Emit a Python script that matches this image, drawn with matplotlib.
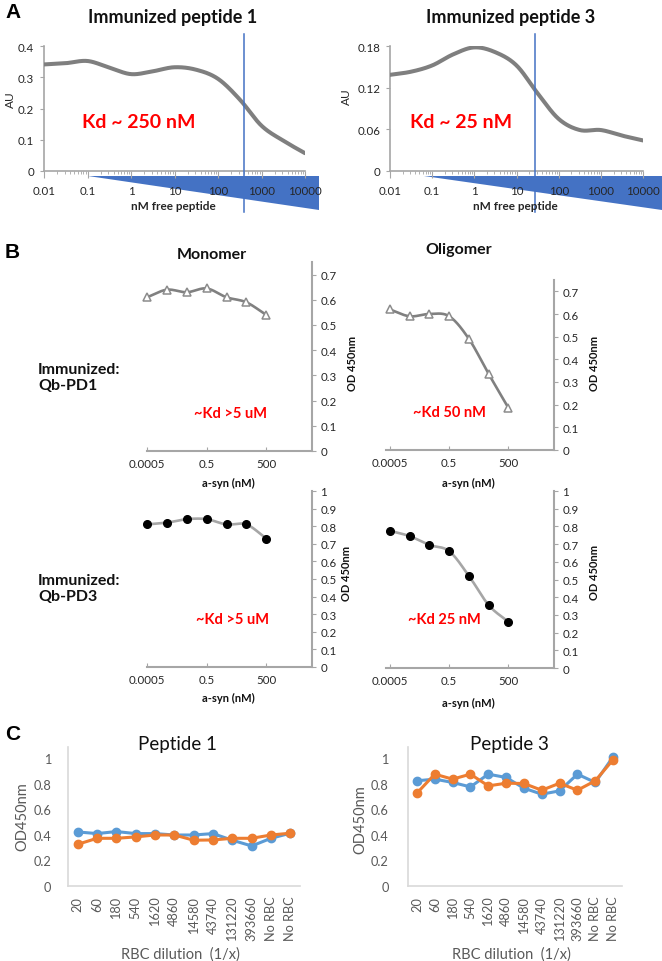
import numpy as np
import matplotlib
matplotlib.use("Agg")
import matplotlib.pyplot as plt
from matplotlib.patches import Polygon
from matplotlib.ticker import LogLocator, NullFormatter, FixedLocator, FixedFormatter

# ---------------- data ----------------
# Panel A
a_conc = [0.01, 0.0316, 0.1, 0.316, 1, 3.16, 10, 31.6, 100, 316, 1000, 3162, 10000]
a_pep1 = [0.341, 0.345, 0.352, 0.331, 0.310, 0.319, 0.332, 0.324, 0.295, 0.229, 0.145, 0.097, 0.057]
a_pep3 = [0.1385, 0.143, 0.152, 0.168, 0.178, 0.171, 0.152, 0.112, 0.075, 0.059, 0.059, 0.051, 0.044]
a_kd_line = [400, 28]
a_titles = ["Immunized peptide 1", "Immunized peptide 3"]
a_kd_text = ["Kd ~ 250 nM", "Kd ~ 25 nM"]
a_xticks = [0.01, 0.1, 1, 10, 100, 1000, 10000]
a_xticklabels = ["0.01", "0.1", "1", "10", "100", "1000", "10000"]

# Panel B
b_conc = [0.0005, 0.005, 0.05, 0.5, 5, 50, 500]
b_pd1_mono = [0.61, 0.64, 0.63, 0.645, 0.61, 0.59, 0.54]
b_pd1_olig = [0.62, 0.59, 0.60, 0.59, 0.49, 0.335, 0.185]
b_pd3_mono = [0.81, 0.82, 0.84, 0.84, 0.81, 0.81, 0.73]
b_pd3_olig = [0.775, 0.745, 0.695, 0.66, 0.52, 0.355, 0.26]
b_xticks = [0.0005, 0.5, 500]
b_xticklabels = ["0.0005", "0.5", "500"]

# Panel C
c_cats = ['20', '60', '180', '540', '1620', '4860', '14580', '43740', '131220', '393660', 'No RBC', 'No RBC']
c_p1_blue = [0.424, 0.411, 0.427, 0.411, 0.411, 0.40, 0.40, 0.411, 0.359, 0.314, 0.374, 0.414]
c_p1_orange = [0.327, 0.374, 0.374, 0.385, 0.40, 0.40, 0.359, 0.361, 0.374, 0.374, 0.40, 0.414]
c_p3_blue = [0.825, 0.838, 0.812, 0.777, 0.877, 0.851, 0.767, 0.72, 0.746, 0.877, 0.812, 1.013]
c_p3_orange = [0.728, 0.877, 0.838, 0.877, 0.785, 0.806, 0.804, 0.751, 0.806, 0.751, 0.825, 0.99]
c_yticks = [0, 0.2, 0.4, 0.6, 0.8, 1]
c_yticklabels = ["0", "0.2", "0.4", "0.6", "0.8", "1"]

# ---------------- setup ----------------
W, H = 662, 962
plt.rcParams['font.family'] = ['Lato', 'DejaVu Sans']
fig = plt.figure(figsize=(W / 100, H / 100), dpi=100)
fig.patch.set_facecolor('white')


def add_ax(l, t, r, b):
    return fig.add_axes([l / W, 1 - b / H, (r - l) / W, (b - t) / H])


def ftext(x, y, s, **kw):
    kw.setdefault('ha', 'center')
    kw.setdefault('va', 'center')
    return fig.text(x / W, 1 - y / H, s, **kw)


def catmull(xs, ys, n=24):
    p = np.column_stack([xs, ys]).astype(float)
    p = np.vstack([2 * p[0] - p[1], p, 2 * p[-1] - p[-2]])
    t = np.linspace(0, 1, n, endpoint=False)[:, None]
    out = []
    for i in range(1, len(p) - 2):
        p0, p1, p2, p3 = p[i - 1], p[i], p[i + 1], p[i + 2]
        seg = 0.5 * ((2 * p1) + (-p0 + p2) * t + (2 * p0 - 5 * p1 + 4 * p2 - p3) * t ** 2
                     + (-p0 + 3 * p1 - 3 * p2 + p3) * t ** 3)
        out.append(seg)
    out.append(p[-2][None, :])
    return np.vstack(out)


def smooth_log(x, y):
    c = catmull(np.log10(x), y)
    return 10 ** c[:, 0], c[:, 1]


TRI_BLUE = '#4472C4'

# ---------------- Panel A ----------------
ftext(5, 12, "A", ha='left', fontsize=15, fontweight='bold', family=['Liberation Sans', 'DejaVu Sans'])

a_specs = [
    dict(box=(44, 47, 305, 172), ylim=(0, 0.4), yticks=[0, 0.1, 0.2, 0.3, 0.4],
         yl=["0", "0.1", "0.2", "0.3", "0.4"], data=a_pep1, tri=(88, 319), title_x=173,
         au=(10, 100), kd=(82, 123)),
    dict(box=(390, 47, 643, 172), ylim=(0, 0.18), yticks=[0, 0.06, 0.12, 0.18],
         yl=["0", "0.06", "0.12", "0.18"], data=a_pep3, tri=(424, 662), title_x=511,
         au=(346, 97), kd=(410, 123)),
]
for i, sp in enumerate(a_specs):
    l, t, r, b = sp['box']
    ax = add_ax(l, t, r, b)
    ax.set_xscale('log')
    ax.set_xlim(0.01, 10000)
    ax.set_ylim(*sp['ylim'])
    xs, ys = smooth_log(a_conc, sp['data'])
    ax.plot(xs, ys, color='#7f7f7f', lw=2.9, solid_capstyle='round', zorder=3)
    ax.axvline(a_kd_line[i], ymin=(b - 213) / (b - t), ymax=(b - 35) / (b - t),
               color=TRI_BLUE, lw=1.1, clip_on=False, zorder=4)
    for s in ['top', 'right']:
        ax.spines[s].set_visible(False)
    for s in ['left', 'bottom']:
        ax.spines[s].set_color('#a6a6a6')
        ax.spines[s].set_linewidth(1.2)
    ax.set_yticks(sp['yticks'])
    ax.set_yticklabels(sp['yl'])
    ax.xaxis.set_major_locator(FixedLocator(a_xticks))
    ax.set_xticklabels(a_xticklabels)
    ax.xaxis.set_minor_locator(LogLocator(base=10, subs=np.arange(2, 10)))
    ax.xaxis.set_minor_formatter(NullFormatter())
    ax.tick_params(axis='both', which='major', labelsize=8.3, colors='#a6a6a6', labelcolor='#262626')
    ax.tick_params(axis='x', which='major', length=5, pad=5)
    ax.tick_params(axis='x', which='minor', length=2.5, color='#a6a6a6')
    ax.tick_params(axis='y', length=3, pad=4)
    ax.patch.set_alpha(0)
    # decreasing-concentration wedge (drawn beneath the axes so labels stay on top)
    x0, x1 = sp['tri']
    tri = Polygon([[x0 / W, 1 - 177 / H], [x1 / W, 1 - 177 / H], [x1 / W, 1 - 211 / H]],
                  closed=True, transform=fig.transFigure, facecolor=TRI_BLUE,
                  edgecolor='none', zorder=-1)
    fig.patches.append(tri)
    ftext(sp['title_x'], 17, a_titles[i], fontsize=13, fontweight='bold', color='#111111')
    ftext(sp['au'][0], sp['au'][1], "AU", rotation=90, fontsize=8.5, color='#262626')
    ftext((l + r) / 2 - 1, 207, "nM free peptide", fontsize=8.5, fontweight='bold', color='#262626')
    ftext(sp['kd'][0], sp['kd'][1], a_kd_text[i], ha='left', fontsize=14, fontweight='bold',
          color='#ff0000')

# ---------------- Panel B ----------------
ftext(5, 253, "B", ha='left', fontsize=15, fontweight='bold', family=['Liberation Sans', 'DejaVu Sans'])
ftext(212, 255, "Monomer", fontsize=11.5, fontweight='bold', color='#111111')
ftext(459, 250, "Oligomer", fontsize=11.5, fontweight='bold', color='#111111')
ftext(38, 378, "Immunized:\nQb-PD1", ha='left', fontsize=11.5, fontweight='bold',
      color='#111111', linespacing=1.1)
ftext(38, 589, "Immunized:\nQb-PD3", ha='left', fontsize=11.5, fontweight='bold',
      color='#111111', linespacing=1.1)

b_specs = [
    dict(box=(147, 263, 312, 452), xl=(5e-4, 1e5), ylim=(0, 0.75), yt=np.round(np.arange(0, 0.71, 0.1), 1),
         data=b_pd1_mono, style='tri', od=(352, 363), kd=("~Kd >5 uM", 230, 414), asyn=(228, 483)),
    dict(box=(386, 281, 554, 451), xl=(3.2e-4, 1e5), ylim=(0, 0.75), yt=np.round(np.arange(0, 0.71, 0.1), 1),
         data=b_pd1_olig, style='tri', od=(594, 363), kd=("~Kd 50 nM", 449, 413), asyn=(468, 483)),
    dict(box=(147, 492, 312, 668), xl=(5e-4, 1e5), ylim=(0, 1.0), yt=np.round(np.arange(0, 1.01, 0.1), 1),
         data=b_pd3_mono, style='dot', od=(347, 573), kd=("~Kd >5 uM", 232, 620), asyn=(228, 698)),
    dict(box=(386, 492, 554, 669), xl=(3.2e-4, 1e5), ylim=(0, 1.0), yt=np.round(np.arange(0, 1.01, 0.1), 1),
         data=b_pd3_olig, style='dot', od=(594, 572), kd=("~Kd 25 nM", 444, 620), asyn=(468, 703)),
]
for sp in b_specs:
    l, t, r, b = sp['box']
    ax = add_ax(l, t, r, b)
    ax.set_xscale('log')
    ax.set_xlim(*sp['xl'])
    ax.set_ylim(*sp['ylim'])
    xs, ys = smooth_log(b_conc, sp['data'])
    if sp['style'] == 'tri':
        ax.plot(xs, ys, color='#808080', lw=1.9, zorder=2)
        ax.plot(b_conc, sp['data'], ls='none', marker='^', ms=6, mfc='white', mec='#8c8c8c',
                mew=1.1, zorder=3, clip_on=False)
    else:
        ax.plot(xs, ys, color='#a6a6a6', lw=1.9, zorder=2)
        ax.plot(b_conc, sp['data'], ls='none', marker='o', ms=5.5, mfc='black', mec='black',
                zorder=3, clip_on=False)
    for s in ['top', 'left']:
        ax.spines[s].set_visible(False)
    for s in ['right', 'bottom']:
        ax.spines[s].set_color('#a6a6a6')
        ax.spines[s].set_linewidth(1.5)
    ax.yaxis.tick_right()
    ax.set_yticks(sp['yt'])
    ax.set_yticklabels([("%g" % v) for v in sp['yt']])
    ax.xaxis.set_major_locator(FixedLocator(b_xticks))
    ax.xaxis.set_major_formatter(FixedFormatter(b_xticklabels))
    ax.xaxis.set_minor_locator(FixedLocator([]))
    ax.tick_params(axis='both', labelsize=8.3, colors='#a6a6a6', labelcolor='#262626')
    ax.tick_params(axis='y', length=3, pad=3, direction='out')
    ax.tick_params(axis='x', length=3, pad=5, direction='in')
    ax.patch.set_alpha(0)
    ftext(sp['od'][0], sp['od'][1], "OD 450nm", rotation=90, fontsize=8, fontweight='bold',
          color='#111111')
    ftext(sp['asyn'][0], sp['asyn'][1], "a-syn (nM)", fontsize=8, fontweight='bold', color='#111111')
    ftext(sp['kd'][1], sp['kd'][2], sp['kd'][0], fontsize=10.5, fontweight='bold', color='#ff0000')

# ---------------- Panel C ----------------
ftext(5, 735, "C", ha='left', fontsize=15, fontweight='bold', family=['Liberation Sans', 'DejaVu Sans'])
BLUE = '#5B9BD5'
ORANGE = '#ED7D31'
c_specs = [
    dict(box=(68, 748, 300, 887), title=("Peptide 1", 178), blue=c_p1_blue, orange=c_p1_orange,
         ylab=(22, 817), ypad=12),
    dict(box=(408, 748, 622, 887), title=("Peptide 3", 509), blue=c_p3_blue, orange=c_p3_orange,
         ylab=(360, 820), ypad=14),
]
for sp in c_specs:
    l, t, r, b = sp['box']
    ax = add_ax(l, t, r, b)
    xpos = np.arange(len(c_cats))
    ax.plot(xpos, sp['blue'], color=BLUE, lw=2.2, marker='o', ms=6, zorder=3)
    ax.plot(xpos, sp['orange'], color=ORANGE, lw=2.2, marker='o', ms=6, zorder=4)
    ax.set_xlim(-0.5, len(c_cats) - 0.5)
    ax.set_ylim(0, 1.09)
    ax.set_yticks(c_yticks)
    ax.set_yticklabels(c_yticklabels)
    ax.set_xticks(xpos)
    ax.set_xticklabels(c_cats, rotation=90, va='top', ha='center')
    for s in ['top', 'right']:
        ax.spines[s].set_visible(False)
    for s in ['left', 'bottom']:
        ax.spines[s].set_color('#d9d9d9')
        ax.spines[s].set_linewidth(1.2)
    ax.tick_params(axis='both', length=0, labelsize=9.2, labelcolor='#595959')
    ax.tick_params(axis='x', pad=7)
    ax.tick_params(axis='y', pad=sp['ypad'])
    ax.patch.set_alpha(0)
    ftext(sp['title'][1], 745, sp['title'][0], fontsize=13.5, color='#111111')
    ftext(sp['ylab'][0], sp['ylab'][1], "OD450nm", rotation=90, fontsize=10.5, color='#595959')
    ftext((l + r) / 2 - 4, 955, "RBC dilution  (1/x)", fontsize=10.5, color='#595959')

fig.savefig("out.png", dpi=100, facecolor='white')
